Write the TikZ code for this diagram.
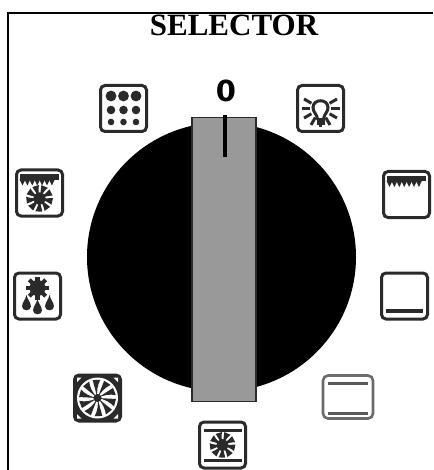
\documentclass[tikz,border=0pt]{standalone}
\usepackage{fontspec}
\setmainfont{Liberation Serif}
\newfontfamily\zerofont{DejaVu Sans}
\definecolor{ink}{HTML}{2A2A2A}
\definecolor{barg}{HTML}{999999}
\tikzset{
  iconbox/.style={draw=ink,line width=3pt,rounded corners=4.5pt,fill=white},
  paleicon/.style={draw=black!58,line width=2.6pt,rounded corners=5pt,fill=white},
  ray/.style={line width=3pt,draw=ink},
  pics/box/.style={code={\draw[iconbox] (-23,-23) rectangle (23,23);}},
  pics/bigblades/.style={code={
    \foreach \a in {0,36,...,324}{
      \fill[ink] (0,0) .. controls (\a+10:#1*0.4) and (\a+18:#1*0.7) .. (\a+27:#1)
        -- (\a+3:#1) -- cycle;
    }
    \fill[ink] (0,0) circle[radius=#1*0.22];
  }},
  pics/smallfan/.style={code={
    \foreach \a in {10,50,...,330}{
      \fill[ink] (0,0) .. controls (\a+10:#1*0.5) and (\a+14:#1*0.8) .. (\a+18:#1)
        -- (\a-12:#1) .. controls (\a-12:#1*0.7) and (\a-8:#1*0.4) .. (0,0) -- cycle;
    }
    \fill[ink] (0,0) circle[radius=#1*0.45];
  }},
  pics/grillband/.style={code={
    \fill[ink] (-19.5,-18.5) rectangle (19.5,-13);
    \foreach \x in {-17,-12.1,...,17}{
      \fill[ink] (\x-2.9,-13.5) -- (\x+2.9,-13.5) -- (\x,-7.5) -- cycle;
    }
  }},
  pics/drop/.style={code={
    \fill[ink] (0,-10) .. controls (-1,-5) and (-4.4,-3) .. (-4.4,1.5) .. controls (-4.4,6.5) and (4.4,6.5) .. (4.4,1.5) .. controls (4.4,-3) and (1,-5) .. (0,-10) -- cycle;
  }}
}
\begin{document}
\begin{tikzpicture}[x=1pt,y=-1pt]
\useasboundingbox (0,0) rectangle (433,470);
\fill[white] (0,0) rectangle (433,470);
% frame (top and left only)
\draw[line width=2pt,black] (8,470) -- (8,13.5) -- (433,13.5);
\node[font=\bfseries\fontsize{31}{31}\selectfont,inner sep=0pt,anchor=base] (title) at (234,35.5) {SELECTOR};
\node[font=\zerofont\bfseries\fontsize{29}{29}\selectfont,inner sep=0pt,anchor=base] (zero) at (226,102) {0};
% knob
\fill[black] (221.5,257) circle[radius=134.5];
\draw[fill=barg,draw=ink,line width=1.4pt] (192,117.5) rectangle (256,401.5);
\draw[line width=3.6pt,black] (225,115.5) -- (225,157);
% grid icon
\begin{scope}[shift={(123.5,108.5)}]
  \pic {box};
  \foreach \x in {-12.5,0,12.5}{
    \fill[ink] (\x,-12.5) circle[radius=5.4];
    \fill[ink] (\x,1.5) circle[radius=4.3];
    \fill[ink] (\x,13.5) circle[radius=3.3];
  }
\end{scope}
% bulb icon
\begin{scope}[shift={(320.5,108.5)}]
  \pic {box};
  \foreach \a in {-30,0,30,60,90,120,150,180,210}{
    \draw[ray] (\a:10.5) -- (\a:19);
  }
  \draw[line width=3pt,draw=ink] (-3,11) .. controls (-3,6) and (-7.5,4) .. (-7.5,-1)
     .. controls (-7.5,-10) and (7.5,-10) .. (7.5,-1)
     .. controls (7.5,4) and (3,6) .. (3,11);
  \fill[ink] (-4,10) rectangle (4,17);
\end{scope}
% top element
\begin{scope}[shift={(406.5,194.5)}]
  \pic {box};
  \pic {grillband};
\end{scope}
% bottom element
\begin{scope}[shift={(404.5,296)}]
  \pic {box};
  \draw[line width=4.2pt,ink] (-18.5,15) -- (18.5,15);
\end{scope}
% top and bottom elements (pale)
\begin{scope}[shift={(348,397)}]
  \draw[paleicon] (-25,-21.5) rectangle (25,21.5);
  \draw[line width=3pt,black!65] (-20,-14) -- (20,-14);
  \draw[line width=3pt,black!65] (-20,16) -- (20,16);
\end{scope}
% fan with top and bottom elements
\begin{scope}[shift={(222.5,445)}]
  \pic {box};
  \draw[line width=3pt,ink] (-19,-14.5) -- (19,-14.5);
  \draw[line width=3pt,ink] (-19,15) -- (19,15);
  \pic {smallfan={13}};
\end{scope}
% fan icon
\begin{scope}[shift={(97.5,398)}]
  \draw[iconbox,fill=ink] (-23,-23) rectangle (23,23);
  \foreach \sx/\sy in {1/1,1/-1,-1/1,-1/-1}{
    \fill[white] (\sx*20.5,\sy*20.5) -- (\sx*20.5,\sy*16) -- (\sx*16,\sy*20.5) -- cycle;
  }
  \fill[white] (0,0) circle[radius=20.5];
  \pic {bigblades={18.5}};
\end{scope}
% defrost icon
\begin{scope}[shift={(37.5,296)}]
  \pic {box};
  \foreach \a in {0,45,...,315}{
    \draw[line width=4.2pt,ink] (0,-8) -- ++(\a:11.5);
  }
  \fill[ink] (0,-8) circle[radius=8];
  \pic at (-11,9) {drop};
  \pic at (0,13) {drop};
  \pic at (12,9) {drop};
\end{scope}
% grill with fan icon
\begin{scope}[shift={(39.5,193)}]
  \pic {box};
  \pic {grillband};
  \pic at (0,5.5) {smallfan={13.5}};
\end{scope}
\end{tikzpicture}
\end{document}
